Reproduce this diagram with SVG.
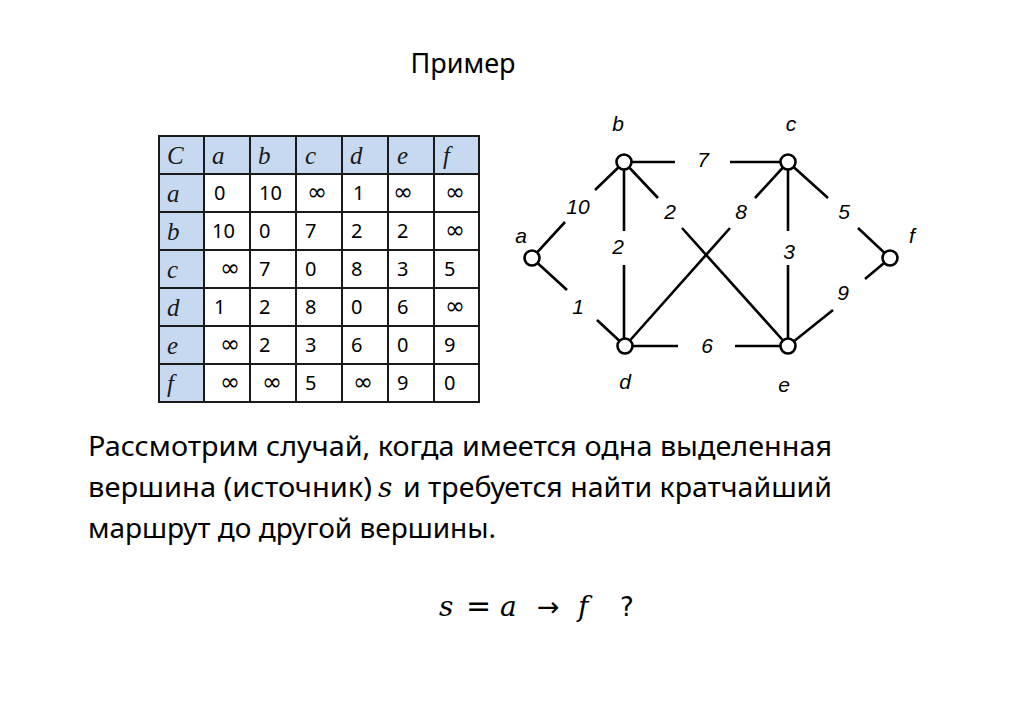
<svg xmlns="http://www.w3.org/2000/svg" width="1024" height="723" viewBox="0 0 1024 723">
<style>
.hdr{fill:#c6d9f1}
.grid{stroke:#1a1a1a;stroke-width:2;fill:none}
.num{font-family:"Noto Sans","Open Sans",sans-serif;font-size:20px;fill:#000}
.inf{font-family:"DejaVu Sans",sans-serif;font-size:24px;text-anchor:middle}
.ser{font-family:"Liberation Serif","DejaVu Serif",serif;font-style:italic;font-size:25px;fill:#1a1a1a}
.edge{stroke:#000;stroke-width:2.6;fill:none;stroke-linecap:butt}
.node{fill:#fff;stroke:#000;stroke-width:2.6}
.glab{font-family:"Liberation Sans",Arial,sans-serif;font-style:italic;font-size:21px;fill:#000;text-anchor:middle}
.body{font-family:"Noto Sans","Open Sans",sans-serif;font-size:27px;fill:#000}
.math{font-family:"DejaVu Serif","Liberation Serif",serif;font-style:italic;font-size:28px;fill:#000}
.op{font-family:"DejaVu Sans",sans-serif;font-style:normal}
</style>
<rect width="1024" height="723" fill="#fff"/>
<text x="463" y="73" class="body" font-size="24" text-anchor="middle">Пример</text>
<g id="table">
<rect class="hdr" x="159" y="136" width="320" height="38"/>
<rect class="hdr" x="159" y="136" width="45" height="266"/>
<g class="grid">
<rect x="159" y="136" width="320" height="266"/>
<path d="M204 136V402M250 136V402M296 136V402M342 136V402M388 136V402M434 136V402"/>
<path d="M159 174H479M159 212H479M159 250H479M159 288H479M159 326H479M159 364H479"/>
</g>
<g class="ser">
<text x="167" y="164">C</text><text x="212" y="164">a</text><text x="258" y="164">b</text><text x="305" y="164">c</text><text x="350" y="164">d</text><text x="397" y="164">e</text><text x="443" y="164">f</text>
<text x="167" y="202">a</text><text x="167" y="240">b</text><text x="167" y="278">c</text><text x="167" y="316">d</text><text x="167" y="354">e</text><text x="167" y="392">f</text>
</g>
<g class="num">
<text x="214" y="200">0</text><text x="259" y="200">10</text><text class="inf" x="317" y="200">∞</text><text x="353" y="200">1</text><text class="inf" x="403" y="200">∞</text><text class="inf" x="455" y="200">∞</text>
<text x="212" y="238">10</text><text x="259" y="238">0</text><text x="305" y="238">7</text><text x="351" y="238">2</text><text x="397" y="238">2</text><text class="inf" x="455" y="238">∞</text>
<text class="inf" x="230" y="276">∞</text><text x="259" y="276">7</text><text x="305" y="276">0</text><text x="351" y="276">8</text><text x="397" y="276">3</text><text x="444" y="276">5</text>
<text x="214" y="314">1</text><text x="259" y="314">2</text><text x="305" y="314">8</text><text x="351" y="314">0</text><text x="397" y="314">6</text><text class="inf" x="455" y="314">∞</text>
<text class="inf" x="230" y="352">∞</text><text x="259" y="352">2</text><text x="305" y="352">3</text><text x="351" y="352">6</text><text x="397" y="352">0</text><text x="444" y="352">9</text>
<text class="inf" x="230" y="390">∞</text><text class="inf" x="272" y="390">∞</text><text x="305" y="390">5</text><text class="inf" x="363" y="390">∞</text><text x="397" y="390">9</text><text x="444" y="390">0</text>
</g>
</g>
<g id="edges" class="edge">
<path d="M624 162H675M730 162H788"/>
<path d="M624 162L595 190M565 222L532 258"/>
<path d="M624 162L658 198M682 228L788 346"/>
<path d="M624 162V231M624 265V346"/>
<path d="M788 162L755 198M730 228L625 346"/>
<path d="M788 162V231M788 265V346"/>
<path d="M788 162L828 198M858 228L890 258"/>
<path d="M532 258L567 290M597 320L625 346"/>
<path d="M625 346H678M735 346H788"/>
<path d="M788 346L833 310M865 279L890 258"/>
</g>
<g class="glab">
<text x="703" y="167">7</text>
<text x="578" y="214">10</text>
<text x="670" y="219">2</text>
<text x="618" y="254">2</text>
<text x="741" y="219">8</text>
<text x="789" y="259">3</text>
<text x="844" y="219">5</text>
<text x="578" y="314">1</text>
<text x="707" y="353">6</text>
<text x="843" y="300">9</text>
</g>
<g id="node-b"><circle class="node" cx="624" cy="162" r="7.5"/><text class="glab" x="618" y="131">b</text></g>
<g id="node-c"><circle class="node" cx="788" cy="162" r="7.5"/><text class="glab" x="791" y="131">c</text></g>
<g id="node-a"><circle class="node" cx="532" cy="258" r="7.5"/><text class="glab" x="521" y="243">a</text></g>
<g id="node-f"><circle class="node" cx="890" cy="258" r="7.5"/><text class="glab" x="912" y="243">f</text></g>
<g id="node-d"><circle class="node" cx="625" cy="346" r="7.5"/><text class="glab" x="625" y="389">d</text></g>
<g id="node-e"><circle class="node" cx="788" cy="346" r="7.5"/><text class="glab" x="784" y="392">e</text></g>
<g id="text">
<text class="body" x="88" y="456" textLength="744" lengthAdjust="spacingAndGlyphs">Рассмотрим случай, когда имеется одна выделенная</text>
<text class="body" x="88" y="497"><tspan textLength="284" lengthAdjust="spacingAndGlyphs">вершина (источник)</tspan><tspan class="math" x="378" font-size="26">s</tspan><tspan x="403" textLength="429" lengthAdjust="spacingAndGlyphs">и требуется найти кратчайший</tspan></text>
<text class="body" x="88" y="538" textLength="408" lengthAdjust="spacingAndGlyphs">маршрут до другой вершины.</text>
<text class="math" y="616"><tspan x="439">s</tspan><tspan class="op" x="466" font-size="30">=</tspan><tspan x="500">a</tspan><tspan class="op" x="537" font-size="27">→</tspan><tspan x="578">f</tspan><tspan class="op" x="620" font-size="26">?</tspan></text>
</g>
</svg>
